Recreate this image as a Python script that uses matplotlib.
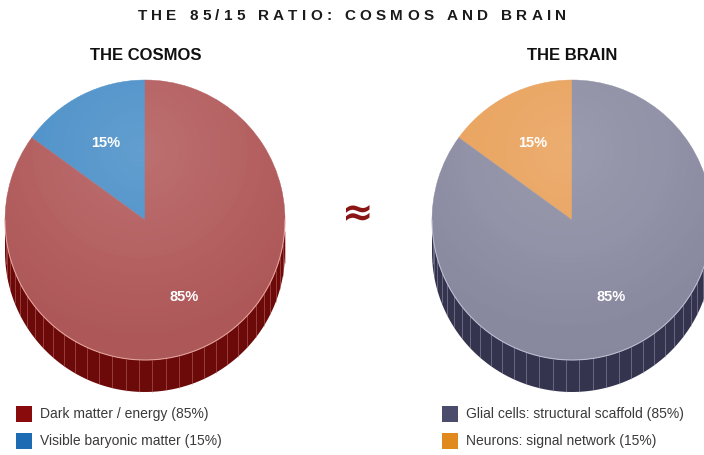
import matplotlib
matplotlib.use("Agg")
import matplotlib.pyplot as plt
import numpy as np
from matplotlib.patches import Polygon, Rectangle, Circle

W, H = 704, 455          # canvas in pixels, axes drawn in pixel units (y up)
FONT = "Liberation Sans"

# ── Data ─────────────────────────────────────────────────────────────────────
share = [15, 85]                    # slices, starting at 12 o'clock, counter-clockwise
pct_text = ["15%", "85%"]
cosmos_labels = ["Visible baryonic matter (15%)", "Dark matter / energy (85%)"]
brain_labels = ["Neurons: signal network (15%)", "Glial cells: structural scaffold (85%)"]

TITLE = "THE 85/15 RATIO: COSMOS AND BRAIN"
SUB_COSMOS = "THE COSMOS"
SUB_BRAIN = "THE BRAIN"

# ── Colours ──────────────────────────────────────────────────────────────────
cosmos_top = ["#4a8fc8", "#b25a5b"]
cosmos_side = ["#1d5a8c", "#6c0a0a"]
cosmos_key = ["#1d6cb3", "#8a0b0b"]
brain_top = ["#e9a15a", "#8c8ca3"]
brain_side = ["#9a5a18", "#34344e"]
brain_key = ["#e08a1e", "#4b4b6b"]

R = 140      # disc radius (px)
DEPTH = 32   # wall height (px)

fig = plt.figure(figsize=(W / 100, H / 100), dpi=100)
fig.patch.set_facecolor("white")
ax = fig.add_axes([0, 0, 1, 1])


def draw_disc(cx, cy, tops, sides, stripe, rim):
    edges = 90 + np.concatenate([[0], np.cumsum(share)]) * 3.6

    # front wall (angles 180..360 face the viewer)
    for a0, a1, sc in zip(edges[:-1], edges[1:], sides):
        for k in (0, 360):
            lo, hi = max(a0, 180 + k), min(a1, 360 + k)
            if hi <= lo:
                continue
            th = np.radians(np.linspace(lo, hi, 90))
            xs = cx + R * np.cos(th)
            ys = cy + R * np.sin(th)
            pts = np.vstack([np.column_stack([xs, ys]),
                             np.column_stack([xs, ys - DEPTH])[::-1]])
            ax.add_patch(Polygon(pts, closed=True, facecolor=sc,
                                 edgecolor="none", zorder=1))
    for ang in np.radians(np.arange(185, 360, 5.5)):
        x = cx + R * np.cos(ang)
        y = cy + R * np.sin(ang)
        ax.plot([x, x], [y, y - DEPTH], color=stripe, lw=0.6, alpha=0.6,
                zorder=1.5, solid_capstyle="butt")

    # top face
    wedges, _ = ax.pie(share, colors=tops, startangle=90, counterclock=True,
                       center=(cx, cy), radius=R, frame=True,
                       wedgeprops=dict(linewidth=0.3, zorder=2))
    for w, c in zip(wedges, tops):
        w.set_edgecolor(c)

    # soft light from the top, slightly darker towards the rim
    n = 240
    gx, gy = np.meshgrid(np.linspace(cx - R, cx + R, n), np.linspace(cy - R, cy + R, n))
    d = np.hypot(gx - (cx - 5), gy - (cy + 0.5 * R)) / (1.5 * R)
    light = np.ones((n, n, 4))
    light[..., 3] = 0.14 * np.clip(1 - d, 0, 1) ** 1.4
    im = ax.imshow(light, extent=[cx - R, cx + R, cy - R, cy + R], origin="lower",
                   zorder=3, interpolation="bilinear")
    im.set_clip_path(Circle((cx, cy), R, transform=ax.transData))
    shade = np.zeros((n, n, 4))
    shade[..., 3] = 0.06 * np.clip(d - 0.45, 0, 1)
    im2 = ax.imshow(shade, extent=[cx - R, cx + R, cy - R, cy + R], origin="lower",
                    zorder=3, interpolation="bilinear")
    im2.set_clip_path(Circle((cx, cy), R, transform=ax.transData))

    # highlighted rim along the front edge
    th = np.radians(np.linspace(180, 360, 120))
    ax.plot(cx + R * np.cos(th), cy + R * np.sin(th), color=rim, lw=0.8,
            alpha=0.8, zorder=4)

    # percentage labels
    mids = (edges[:-1] + edges[1:]) / 2
    for m, t in zip(np.radians(mids), pct_text):
        ax.text(cx + 0.62 * R * np.cos(m), cy + 0.62 * R * np.sin(m), t,
                ha="center", va="center", color="white", fontsize=10.5,
                fontweight="bold", family=FONT, zorder=5)


def legend(x, y, labels, keys):
    # larger share listed first
    for i, (lab, col) in enumerate(zip(labels[::-1], keys[::-1])):
        yy = y - i * 27
        ax.add_patch(Rectangle((x, yy - 8), 16, 16, facecolor=col,
                               edgecolor="none", zorder=5))
        ax.text(x + 24, yy, lab, ha="left", va="center", fontsize=10,
                color="#3a3a3a", family=FONT)


def tracked_text(s, y, size, track):
    r = fig.canvas.get_renderer()
    widths = []
    for ch in s:
        if ch == " ":
            widths.append(0.28 * size * 100 / 72)
        else:
            t = ax.text(0, 0, ch, fontsize=size, fontweight="bold", family=FONT)
            widths.append(t.get_window_extent(r).width)
            t.remove()
    total = sum(widths) + track * (len(s) - 1)
    x = (W - total) / 2
    for ch, w in zip(s, widths):
        if ch != " ":
            ax.text(x, y, ch, ha="left", va="center", fontsize=size,
                    fontweight="bold", family=FONT, color="#1a1a1a")
        x += w + track


draw_disc(145, 235, cosmos_top, cosmos_side, "#c06a6a", "#f0b0a8")
draw_disc(572, 235, brain_top, brain_side, "#9a9ab4", "#c8c8dc")

ax.text(146, 399, SUB_COSMOS, ha="center", va="center", fontsize=12,
        fontweight="bold", family=FONT, color="#111111")
ax.text(572, 399, SUB_BRAIN, ha="center", va="center", fontsize=12,
        fontweight="bold", family=FONT, color="#111111")
tracked_text(TITLE, 439, 11, 4.3)

ax.text(358, 240, "\u2248", ha="center", va="center", fontsize=27,
        fontweight="bold", color="#8b1414", family="DejaVu Sans")

legend(16, 41, cosmos_labels, cosmos_key)
legend(442, 41, brain_labels, brain_key)

ax.set_xlim(0, W)
ax.set_ylim(0, H)
ax.set_aspect("auto")
ax.axis("off")

fig.savefig("out.png", dpi=100, facecolor="white")
